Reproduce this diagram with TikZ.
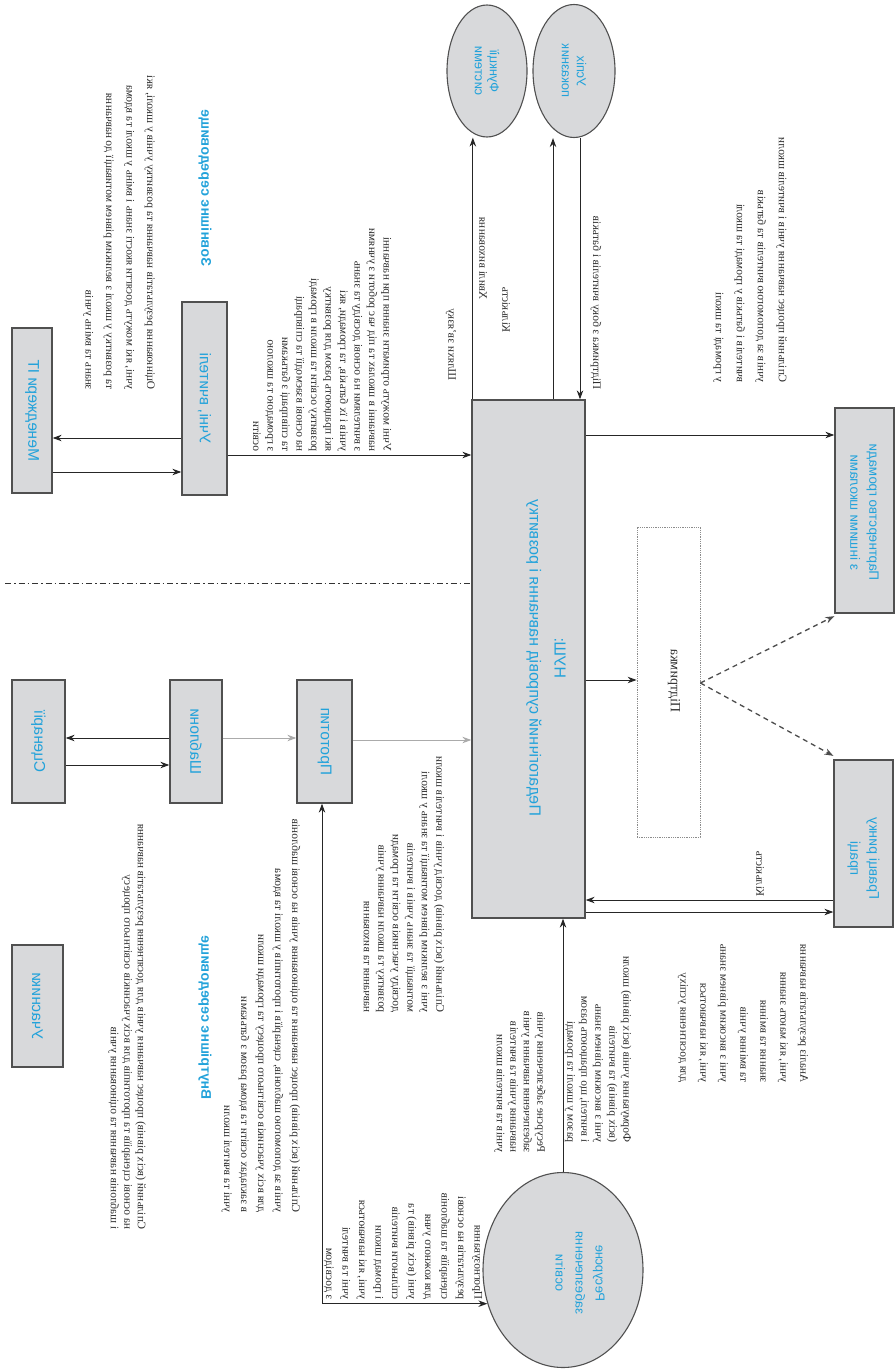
\documentclass[tikz,border=0pt]{standalone}
\usepackage{fontspec}
\setmainfont{Liberation Serif}
\newfontfamily\labfont{Liberation Sans}
\usetikzlibrary{arrows.meta,shapes.geometric,calc}
\definecolor{boxfill}{HTML}{D8D9DB}
\definecolor{boxline}{HTML}{505050}
\definecolor{lblue}{HTML}{22A2DA}
\definecolor{garrow}{HTML}{ABABAB}
\definecolor{txt}{HTML}{2E2E2E}
\begin{document}
\begin{tikzpicture}[x=1pt,y=1pt,
  box/.style={draw=boxline, line width=1.3pt, fill=boxfill, inner sep=0},
  ell/.style={ellipse, draw=boxline, line width=1.1pt, fill=boxfill, inner sep=0},
  vt/.style={cm={0,1,1,0,(0,0)}, inner sep=0, align=left, anchor=west, text=txt, font=\fontsize{11.5}{14.5}\selectfont},
  bl/.style={cm={0,1,1,0,(0,0)}, inner sep=0, align=center, text=lblue, font=\labfont\fontsize{15.5}{18}\selectfont},
  hd/.style={cm={0,1,1,0,(0,0)}, inner sep=0, text=lblue, font=\labfont\bfseries\fontsize{14}{16}\selectfont},
  arr/.style={-{Stealth[length=9pt,width=6.5pt]}, line width=1pt, draw=black!85},
  darr/.style={{Stealth[length=9pt,width=6.5pt]}-{Stealth[length=9pt,width=6.5pt]}, line width=1pt, draw=black!85},
  garr/.style={-{Stealth[length=9pt,width=6.5pt]}, line width=1pt, draw=garrow},
  dsh/.style={-{Stealth[length=9pt,width=6.5pt]}, line width=1.3pt, draw=black!70, dash pattern=on 5pt off 4pt},
]
\useasboundingbox (0,0) rectangle (896,-1370);
% ---------- boxes ----------
\node[box, minimum width=40pt, minimum height=165pt] (A) at (32,-410.5) {};
\node[box, minimum width=45pt, minimum height=193pt] (B) at (204.5,-398.5) {};
\node[box, minimum width=53pt, minimum height=123pt] (C) at (38.5,-741.5) {};
\node[box, minimum width=52pt, minimum height=123pt] (D) at (196,-741.5) {};
\node[box, minimum width=55pt, minimum height=123pt] (E) at (324.5,-741.5) {};
\node[box, minimum width=51pt, minimum height=122pt] (F) at (37.5,-1006) {};
\node[box, minimum width=113pt, minimum height=518pt] (M) at (528.5,-659) {};
\node[box, minimum width=59pt, minimum height=205pt] (I) at (864.5,-510.5) {};
\node[box, minimum width=59pt, minimum height=167pt] (H) at (863.5,-843.5) {};
\node[draw=black!45, densely dotted, line width=0.8pt, minimum width=63pt, minimum height=310pt, inner sep=0] (J) at (668.5,-682) {};
\node[ell, minimum width=80pt, minimum height=132pt] (K1) at (487,-71) {};
\node[ell, minimum width=82pt, minimum height=133pt] (K2) at (574,-71) {};
\node[ell, minimum width=160pt, minimum height=195pt] (G) at (563,-1270) {};
% ---------- box labels ----------
\node[bl] (Al) at (A) {Менеджери ІТ};
\node[bl] (Bl) at (B) {Учні, вчителі};
\node[bl] (Cl) at (C) {Сценарії};
\node[bl] (Dl) at (D) {Шаблони};
\node[bl] (El) at (E) {Прототип};
\node[bl] (Fl) at (F) {Учасники};
\node[bl, font=\labfont\fontsize{16}{25}\selectfont] (Ml) at (546,-658) {НУШ:\\Педагогічний супровід навчання і розвитку};
\node[bl, font=\labfont\fontsize{13.5}{19}\selectfont] (Il) at ([yshift=-2pt]I.center) {Партнерство громади\\з іншими школами};
\node[bl, font=\labfont\fontsize{14}{19}\selectfont] (Hl) at ([yshift=-15pt]H.center) {Гравці ринку\\праці};
\node[cm={0,1,1,0,(0,0)}, inner sep=0, text=txt, font=\fontsize{14}{16}\selectfont] (Jl) at (674,-681) {Підтримка};
\node[bl, font=\labfont\fontsize{13}{15}\selectfont] (K1l) at (K1) {Функції\\системи};
\node[bl, font=\labfont\fontsize{13}{15}\selectfont] (K2l) at (K2) {Успіх\\показник};
\node[bl, font=\labfont\fontsize{13}{20}\selectfont] (Gl) at (580,-1273) {Ресурсне\\забезпечення\\освіти};
% ---------- headings ----------
\node[hd] (h1) at (205,-188) {Зовнішнє середовище};
\node[hd] (h2) at (205,-1018) {Внутрішнє середовище};
% ---------- dash-dot divider ----------
\coordinate (dv) at (5,-583);
\draw[line width=1pt, black!80, dash pattern=on 6pt off 3pt on 1.5pt off 3pt] (dv) -- (dv -| M.west);
% ---------- connectors ----------
\draw[arr] ([yshift=-61.5pt]A.east) -- ([yshift=-73.5pt]B.west);
\draw[arr] ([yshift=-39.5pt]B.west) -- ([yshift=-27.5pt]A.east);
\draw[arr] ([yshift=-56.5pt]B.east) -- ([yshift=-56.5pt]B.east -| M.west);
\draw[arr] ([yshift=3.5pt]D.west) -- ([yshift=3.5pt]C.east);
\draw[arr] ([yshift=-23.5pt]C.east) -- ([yshift=-23.5pt]D.west);
\draw[garr] ([yshift=3.5pt]D.east) -- ([yshift=3.5pt]E.west);
\draw[garr] ([yshift=1.5pt]E.east) -- ([yshift=1.5pt]E.east -| M.west);
\draw[darr] ([xshift=-2.5pt]E.south) |- (G.204);
\draw[arr] (G.north) -- (G.north |- M.south);
\draw[arr] ([yshift=-56.5pt]H.west) -- ([yshift=-56.5pt]H.west -| M.east);
\draw[arr] ([yshift=-68.5pt]H.west -| M.east) -- ([yshift=-68.5pt]H.west);
\draw[arr] ([yshift=75.5pt]I.west -| M.east) -- ([yshift=75.5pt]I.west);
\draw[arr] ([yshift=2pt]J.west -| M.east) -- ([yshift=2pt]J.west);
\coordinate (jr) at ([yshift=-1pt]J.east);
\draw[dsh] (jr) -- ([yshift=-2.5pt]I.south west);
\draw[dsh] (jr) -- ([yshift=3.5pt]H.north west);
\draw[arr] ([xshift=1.5pt]M.north west) -- ([xshift=1.5pt]M.north west |- K1.south);
\draw[arr] ([xshift=-21pt]M.north -| K2.south) -- ([xshift=-21pt]K2.south);
\draw[arr] ([xshift=6pt]K2.south) -- ([xshift=6pt]K2.south |- M.north);
% ---------- arrow labels ----------
\node[vt] (L1) at (451,-381) {Шляхи зв'язку};
\node[vt] (L2) at (483,-300) {Хвилі виховання};
\node[vt] (L3) at (506,-333) {Кількість};
\node[vt] (L4) at (596,-390) {Підтримка з боку вчителів і батьків};
\node[vt] (L5) at (760,-897) {Кількість};
% ---------- text blocks ----------
\node[vt, font=\fontsize{11.5}{20.5}\selectfont] (T1) at (119,-390) {Оцінювання результатів навчання та розвитку учнів у школі, які\\ учні, які можуть досягти якості знань і вмінь у школі та вдома\\ та розвитку у школі з великим рівнем мотивації до навчання\\ знань та вмінь учнів};
\node[vt] (T2) at (322,-452) {Учні можуть отримати знання при навчанні\\ навчанні в школах та під час роботи з учнями\\ з вчителями на основі досвіду та знань\\ учнів і їх батьків, та громади, які\\ які працюють разом для розвитку\\ розвитку освіти та школи в громаді\\ на основі взаємодії та співпраці\\ та співпраці з батьками\\ з громадою та школою\\ освіти};
\node[vt, font=\fontsize{11.5}{13.5}\selectfont] (T3) at (127,-1230) {Спільний (всіх рівнів) процес навчання учнів для досягнення результатів навчання\\ на основі сценаріїв та прототипів для всіх учасників освітнього процесу\\ і шаблонів навчання та оцінювання учнів};
\node[vt, font=\fontsize{11.5}{17}\selectfont] (T4) at (261,-1213) {Спільний (всіх рівнів) процес навчання та оцінювання учнів на основі шаблонів\\ учнів за допомогою шаблонів, сценаріїв і прототипів у школі та вдома\\ для всіх учасників освітнього процесу та громади школи\\ в закладах освіти та вдома разом з батьками\\ учні та вчителі школи};
\node[vt] (T5) at (404,-1013) {Спільний (всіх рівнів) досвід учнів і вчителів школи\\ учні з великим рівнем мотивації та знань у школі\\ мотивації та знань учнів і вчителів\\ досвіду учасників освіти та громади\\ розвитку та школи навчання учнів\\ навчання та виховання};
\node[vt, font=\fontsize{11.5}{16.5}\selectfont] (T6) at (403,-1300) {Прогнозування\\ результатів на основі\\ сценаріїв та шаблонів\\ для кожного учня\\ учні (всіх рівнів) та\\ спільноти вчителів\\ і громад школи\\ учні, які навчаються\\ учні та вчителі\\ з досвідом};
\node[vt, font=\fontsize{11.5}{13.5}\selectfont] (T7) at (520,-1153) {Ресурсне забезпечення учнів\\ забезпечення навчання учнів\\ навчання учнів та вчителів\\ учнів та вчителів школи};
\node[vt, font=\fontsize{11.5}{14}\selectfont] (T8) at (598,-1143) {Формування учнів (всіх рівнів) школи\\ (всіх рівнів) та вчителів\\ учні з високим рівнем знань\\ і вчителі, що працюють разом\\ разом у школі та громаді};
\node[vt, font=\fontsize{11.5}{20}\selectfont] (T9) at (743,-1083) {Аналіз результатів навчання\\ учні, які мають знання\\ знання та вміння\\ та вміння учнів\\ учні з високим рівнем знань\\ учні, які навчаються\\ для досягнення успіху};
\node[vt, font=\fontsize{11.5}{21}\selectfont] (T10) at (750,-383) {Спільний процес навчання учнів і вчителів школи\\ учнів за допомогою вчителів та батьків\\ вчителів і батьків у громаді та школі\\ у громаді та школі};
\end{tikzpicture}
\end{document}
